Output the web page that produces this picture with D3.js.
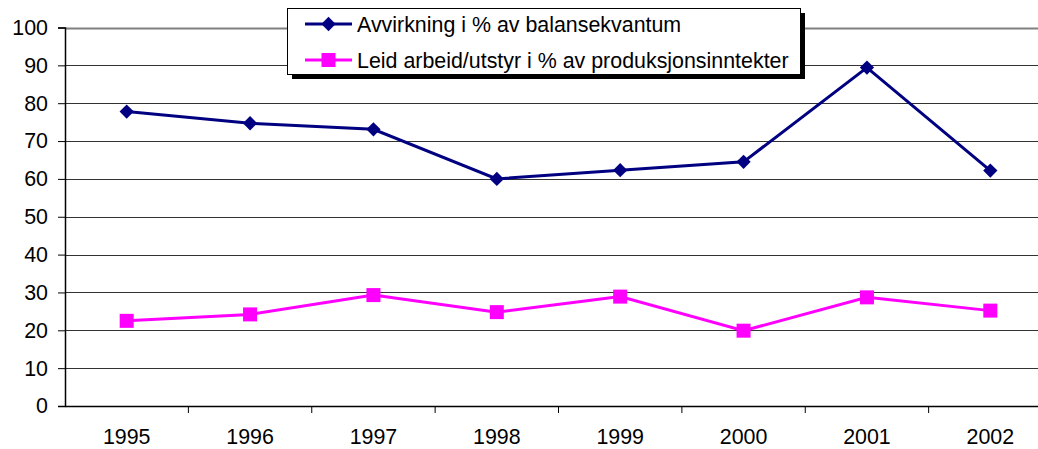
<!DOCTYPE html>
<html>
<head>
<meta charset="utf-8">
<title>Avvirkning</title>
<style>
  body { margin: 0; background: #fff; }
  svg text { font-family: "Liberation Sans", Arial, sans-serif; fill: #000; }
</style>
</head>
<body>
<script src="https://cdn.jsdelivr.net/npm/d3@7"></script>
<script>
// data
var years = ["1995", "1996", "1997", "1998", "1999", "2000", "2001", "2002"];
var avvirkning = [77.8, 74.7, 73.1, 60.0, 62.3, 64.5, 89.4, 62.2];
var leid = [22.5, 24.2, 29.3, 24.8, 28.9, 19.9, 28.7, 25.2];
var yTicks = [0, 10, 20, 30, 40, 50, 60, 70, 80, 90, 100];
var seriesNames = ["Avvirkning i % av balansekvantum", "Leid arbeid/utstyr i % av produksjonsinntekter"];

var width = 1038, height = 449;
var margin = {left: 65, top: 27.5, bottom: 43};
var plotRight = 1052; // plot runs a bit past the picture edge
var fontSize = "21.4px";

var svg = d3.select("body").append("svg")
  .attr("width", width)
  .attr("height", height);

var x = d3.scaleBand().domain(years).range([margin.left, plotRight]);
var y = d3.scaleLinear().domain([0, 100]).range([height - margin.bottom, margin.top]);

// gridlines
svg.append("g").selectAll("line")
  .data(yTicks.filter(function(d) { return d > 0; }))
  .enter().append("line")
  .attr("x1", margin.left).attr("x2", plotRight)
  .attr("y1", function(d) { return Math.round(y(d)) + 0.5; })
  .attr("y2", function(d) { return Math.round(y(d)) + 0.5; })
  .attr("stroke", function(d) { return d == 100 ? "#808080" : "#333"; })
  .attr("stroke-width", function(d) { return d == 100 ? 2 : 1; });

// y axis
var yAxis = d3.axisLeft(y).tickValues(yTicks).tickSize(7).tickPadding(10);
var gy = svg.append("g")
  .attr("transform", "translate(" + margin.left + ",0)")
  .call(yAxis);
gy.select(".domain").attr("stroke-width", 1.5);
gy.selectAll("text").style("font-size", fontSize);

// x axis, ticks between categories
var xAxis = d3.axisBottom(x).tickSize(0).tickPadding(23);
var gx = svg.append("g")
  .attr("transform", "translate(0," + y(0) + ")")
  .call(xAxis);
gx.select(".domain").attr("stroke-width", 1.5);
gx.selectAll("text").style("font-size", fontSize);
gx.selectAll(".sep").data(years.slice(1)).enter().append("line")
  .attr("x1", function(d) { return x(d); })
  .attr("x2", function(d) { return x(d); })
  .attr("y1", 0).attr("y2", 7)
  .attr("stroke", "#000");

var cx = function(d, i) { return x(years[i]) + x.bandwidth() / 2; };
var line = d3.line().x(cx).y(function(d) { return y(d); });

// series 1: navy with diamonds
svg.append("path").datum(avvirkning)
  .attr("d", line).attr("fill", "none")
  .attr("stroke", "#000080").attr("stroke-width", 3);
svg.selectAll(".dia").data(avvirkning).enter().append("path")
  .attr("d", d3.symbol().type(d3.symbolDiamond2).size(130))
  .attr("transform", function(d, i) { return "translate(" + cx(d, i) + "," + y(d) + ")"; })
  .attr("fill", "#000080");

// series 2: magenta with squares
svg.append("path").datum(leid)
  .attr("d", line).attr("fill", "none")
  .attr("stroke", "#ff00ff").attr("stroke-width", 3);
svg.selectAll(".sq").data(leid).enter().append("rect")
  .attr("x", function(d, i) { return cx(d, i) - 7; })
  .attr("y", function(d) { return y(d) - 7; })
  .attr("width", 14).attr("height", 14)
  .attr("fill", "#ff00ff");

// legend
var lg = svg.append("g");
lg.append("rect").attr("x", 292).attr("y", 13).attr("width", 513).attr("height", 66).attr("fill", "#000");
lg.append("rect").attr("x", 287.5).attr("y", 8.5).attr("width", 513).attr("height", 66)
  .attr("fill", "#fff").attr("stroke", "#000").attr("stroke-width", 1);
var rows = [24, 60];
var colors = ["#000080", "#ff00ff"];
lg.selectAll(".ll").data(seriesNames).enter().append("line")
  .attr("x1", 305).attr("x2", 352)
  .attr("y1", function(d, i) { return rows[i]; })
  .attr("y2", function(d, i) { return rows[i]; })
  .attr("stroke", function(d, i) { return colors[i]; })
  .attr("stroke-width", 3);
lg.append("path")
  .attr("d", d3.symbol().type(d3.symbolDiamond2).size(130))
  .attr("transform", "translate(328.5," + rows[0] + ")")
  .attr("fill", colors[0]);
lg.append("rect").attr("x", 321.5).attr("y", rows[1] - 7).attr("width", 14).attr("height", 14)
  .attr("fill", colors[1]);
lg.selectAll(".lt").data(seriesNames).enter().append("text")
  .attr("x", 357)
  .attr("y", function(d, i) { return rows[i] + 7.5; })
  .style("font-size", fontSize)
  .text(function(d) { return d; });
</script>
</body>
</html>
